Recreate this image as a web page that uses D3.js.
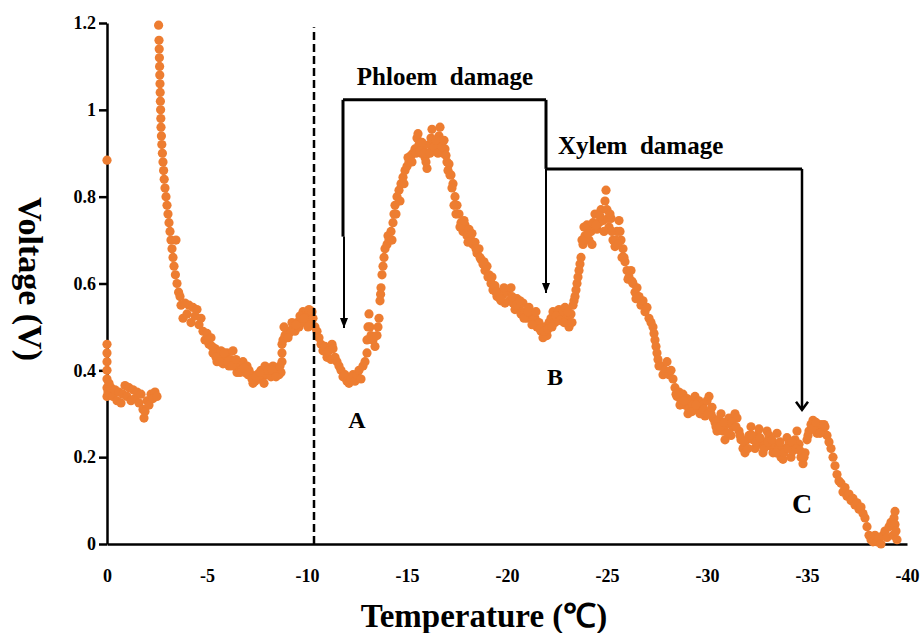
<!DOCTYPE html>
<html>
<head>
<meta charset="utf-8">
<script src="https://cdn.jsdelivr.net/npm/d3@7.9.0/dist/d3.min.js"></script>
<style>
  body { margin: 0; background: #fff; }
  svg { display: block; font-family: "Liberation Serif", "Times New Roman", serif; font-weight: bold; }
  .lbl { white-space: pre; }
</style>
</head>
<body>
<svg width="921" height="633"></svg>
<script>
// [temperature °C, voltage V]
const startColumn = [[0,0.884],[0,0.46],[0,0.44],[0,0.42],[0,0.40],[0,0.38],[0,0.36],[0,0.34]];

const preFreeze = [[-0.05,0.35],[-0.1,0.37],[-0.15,0.345],[-0.2,0.36],[-0.3,0.34],[-0.4,0.355],[-0.5,0.33],
  [-0.6,0.35],[-0.7,0.325],[-0.8,0.345],[-0.9,0.365],[-1.0,0.34],[-1.1,0.36],[-1.2,0.33],[-1.3,0.355],
  [-1.4,0.335],[-1.5,0.35],[-1.6,0.325],[-1.7,0.345],[-1.8,0.31],[-1.85,0.29],[-1.9,0.305],[-2.0,0.33],
  [-2.1,0.32],[-2.2,0.345],[-2.3,0.335],[-2.4,0.35],[-2.5,0.34]];

const exotherm = [[-2.58,1.195],[-2.6,1.16],[-2.61,1.14],[-2.62,1.12],[-2.63,1.10],[-2.64,1.08],[-2.65,1.06],
  [-2.66,1.04],[-2.67,1.02],[-2.68,1.0],[-2.69,0.98],[-2.7,0.96],[-2.72,0.94],[-2.74,0.92],[-2.77,0.90],
  [-2.8,0.88],[-2.83,0.86],[-2.86,0.84],[-2.9,0.82],[-2.95,0.80],[-3.0,0.78],[-3.05,0.76],[-3.1,0.74],
  [-3.15,0.72],[-3.2,0.70],[-3.45,0.70],[-3.25,0.68],[-3.3,0.66],[-3.35,0.64],[-3.42,0.62],[-3.5,0.60],
  [-3.58,0.58],[-3.65,0.57]];

const supercool = [[-3.7,0.55],[-3.8,0.52],[-3.9,0.555],[-4.0,0.53],[-4.1,0.55],[-4.2,0.51],[-4.3,0.545],
  [-4.4,0.525],[-4.5,0.54],[-4.6,0.505],[-4.7,0.52],[-4.8,0.49],[-4.9,0.47],[-5.0,0.485],[-5.1,0.46],
  [-5.2,0.475],[-5.3,0.44],[-5.4,0.45],[-5.5,0.42],[-5.6,0.435],[-5.7,0.445],[-5.8,0.415],[-5.9,0.43],
  [-6.0,0.44],[-6.1,0.41],[-6.2,0.425],[-6.3,0.445],[-6.4,0.41],[-6.5,0.395],[-6.6,0.415],[-6.7,0.40],
  [-6.8,0.42],[-6.9,0.395],[-7.0,0.41],[-7.1,0.40],[-7.2,0.39],[-7.3,0.37],[-7.4,0.375],[-7.5,0.39],
  [-7.6,0.38],[-7.7,0.40],[-7.8,0.385],[-7.9,0.41],[-8.0,0.39],[-8.1,0.405],[-8.2,0.385],[-8.3,0.41],
  [-8.4,0.395],[-8.5,0.40],[-8.6,0.39],[-8.7,0.395],[-8.75,0.42],[-8.75,0.44],[-8.75,0.46],[-8.8,0.47],
  [-8.9,0.48],[-9.0,0.49],[-9.1,0.485],[-9.2,0.49],[-9.3,0.50],[-9.4,0.49],[-9.5,0.51],[-9.6,0.50],
  [-9.7,0.52],[-9.8,0.535],[-9.9,0.51],[-10.0,0.525],[-10.1,0.54],[-10.2,0.515],[-10.3,0.52],[-10.4,0.50]];

const phloemPhase = [[-10.5,0.49],[-10.6,0.475],[-10.7,0.46],[-10.8,0.445],[-10.9,0.455],[-11.0,0.43],
  [-11.1,0.445],[-11.2,0.425],[-11.25,0.46],[-11.3,0.45],[-11.4,0.43],[-11.5,0.42],[-11.6,0.41],[-11.7,0.40],
  [-11.8,0.385],[-11.9,0.39],[-12.0,0.375],[-12.1,0.37],[-12.2,0.38],[-12.3,0.39],[-12.4,0.375],[-12.5,0.39],
  [-12.6,0.40],[-12.7,0.38],[-12.8,0.41],[-12.9,0.42],[-13.0,0.44],[-13.0,0.47],[-13.05,0.50],[-13.1,0.53],
  [-13.15,0.50],[-13.2,0.48],[-13.3,0.47],[-13.4,0.455],[-13.5,0.48],[-13.55,0.50],[-13.6,0.52],[-13.65,0.56],
  [-13.68,0.575],[-13.7,0.59],[-13.75,0.62],[-13.8,0.64],[-13.85,0.66],[-13.9,0.68],[-14.0,0.69],[-14.1,0.70],
  [-14.2,0.72],[-14.3,0.74],[-14.35,0.76],[-14.4,0.78],[-14.5,0.80],[-14.6,0.815],[-14.7,0.83],[-14.8,0.845],
  [-14.9,0.86],[-15.0,0.87],[-15.1,0.88],[-15.2,0.895],[-15.3,0.90],[-15.4,0.91],[-15.5,0.935],[-15.6,0.92],
  [-15.7,0.90],[-15.8,0.915],[-15.9,0.89],[-16.0,0.865],[-16.05,0.90],[-16.1,0.92],[-16.2,0.935],[-16.25,0.955],
  [-16.3,0.93],[-16.4,0.905],[-16.5,0.92],[-16.6,0.94],[-16.65,0.96],[-16.7,0.93],[-16.8,0.90],[-16.9,0.91],
  [-17.0,0.88],[-17.1,0.875],[-17.2,0.85],[-17.3,0.83],[-17.4,0.80],[-17.5,0.78],[-17.6,0.76],[-17.7,0.74],
  [-17.8,0.72],[-17.9,0.735],[-18.0,0.71],[-18.1,0.725],[-18.2,0.70],[-18.3,0.69],[-18.4,0.695],[-18.5,0.67],
  [-18.6,0.68],[-18.7,0.655],[-18.8,0.645],[-18.9,0.63],[-19.0,0.64],[-19.1,0.62],[-19.2,0.60],[-19.3,0.585],
  [-19.4,0.595],[-19.5,0.57],[-19.6,0.58],[-19.7,0.56],[-19.8,0.575],[-19.9,0.555],[-20.0,0.58],[-20.1,0.56],
  [-20.2,0.59],[-20.3,0.555],[-20.4,0.54],[-20.5,0.565],[-20.6,0.545],[-20.7,0.53],[-20.8,0.555],[-20.9,0.535],
  [-21.0,0.52],[-21.1,0.545],[-21.2,0.53],[-21.3,0.515],[-21.4,0.52],[-21.5,0.50],[-21.6,0.51],[-21.7,0.49],
  [-21.8,0.475],[-21.9,0.50],[-22.0,0.48],[-22.1,0.51]];

const xylemPhase = [[-22.2,0.52],[-22.3,0.535],[-22.4,0.51],[-22.5,0.53],[-22.6,0.54],[-22.7,0.52],[-22.8,0.535],
  [-22.9,0.545],[-23.0,0.52],[-23.1,0.50],[-23.2,0.53],[-23.3,0.55],[-23.35,0.56],[-23.4,0.57],[-23.45,0.585],
  [-23.5,0.60],[-23.55,0.615],[-23.6,0.63],[-23.65,0.645],[-23.7,0.66],[-23.8,0.69],[-23.9,0.71],[-24.0,0.735],
  [-24.1,0.70],[-24.2,0.72],[-24.3,0.74],[-24.4,0.76],[-24.5,0.725],[-24.6,0.74],[-24.7,0.77],[-24.8,0.745],
  [-24.9,0.79],[-24.95,0.815],[-25.0,0.77],[-25.1,0.73],[-25.2,0.75],[-25.3,0.70],[-25.4,0.685],[-25.5,0.72],
  [-25.6,0.745],[-25.7,0.70],[-25.8,0.68],[-25.9,0.65],[-26.0,0.63],[-26.1,0.615],[-26.2,0.63],[-26.3,0.60],
  [-26.4,0.58],[-26.5,0.59],[-26.6,0.57],[-26.7,0.55],[-26.8,0.56],[-26.9,0.535],[-27.0,0.545],[-27.1,0.52],
  [-27.2,0.51],[-27.3,0.50]];

const tail = [[-27.35,0.485],[-27.4,0.47],[-27.45,0.455],[-27.5,0.44],[-27.55,0.425],[-27.6,0.41],[-27.7,0.41],
  [-27.8,0.39],[-27.9,0.40],[-28.0,0.42],[-28.1,0.39],[-28.2,0.40],[-28.3,0.38],[-28.4,0.36],[-28.5,0.34],
  [-28.6,0.35],[-28.7,0.33],[-28.8,0.345],[-28.9,0.32],[-29.0,0.335],[-29.1,0.31],[-29.2,0.33],[-29.3,0.32],
  [-29.4,0.34],[-29.5,0.31],[-29.6,0.33],[-29.7,0.30],[-29.8,0.32],[-29.9,0.295],[-30.0,0.33],[-30.1,0.34],
  [-30.2,0.30],[-30.3,0.29],[-30.4,0.28],[-30.5,0.26],[-30.6,0.285],[-30.7,0.30],[-30.8,0.26],[-30.9,0.24],
  [-31.0,0.275],[-31.1,0.29],[-31.2,0.25],[-31.3,0.27],[-31.4,0.30],[-31.5,0.29],[-31.6,0.26],[-31.7,0.24],
  [-31.8,0.22],[-31.9,0.21],[-32.0,0.24],[-32.1,0.25],[-32.2,0.27],[-32.3,0.24],[-32.4,0.22],[-32.5,0.25],
  [-32.6,0.265],[-32.7,0.23],[-32.8,0.21],[-32.9,0.235],[-33.0,0.26],[-33.1,0.25],[-33.2,0.225],[-33.3,0.21],
  [-33.4,0.23],[-33.5,0.255],[-33.6,0.22],[-33.7,0.20],[-33.8,0.195],[-33.9,0.22],[-34.0,0.245],[-34.1,0.23],
  [-34.2,0.20],[-34.3,0.215],[-34.4,0.24],[-34.5,0.26],[-34.6,0.23],[-34.7,0.20],[-34.8,0.185],[-34.9,0.21],
  [-35.0,0.24],[-35.1,0.26],[-35.2,0.275],[-35.3,0.285],[-35.4,0.27],[-35.5,0.255],[-35.6,0.265],[-35.7,0.275],
  [-35.8,0.26],[-35.9,0.27],[-36.0,0.25],[-36.1,0.235],[-36.2,0.22],[-36.3,0.20],[-36.4,0.18],[-36.5,0.16],
  [-36.6,0.145],[-36.7,0.14],[-36.8,0.12],[-36.9,0.13],[-37.0,0.11],[-37.1,0.115],[-37.2,0.10],[-37.3,0.105],
  [-37.4,0.09],[-37.5,0.095],[-37.6,0.08],[-37.7,0.085],[-37.8,0.07],[-37.9,0.06],[-38.0,0.04],[-38.1,0.02],
  [-38.2,0.01],[-38.3,0.005],[-38.4,0.02],[-38.5,0.005],[-38.6,0.015],[-38.7,0.0],[-38.8,0.02],[-38.9,0.03],
  [-39.0,0.015],[-39.1,0.04],[-39.2,0.05],[-39.3,0.02],[-39.35,0.06],[-39.4,0.075],[-39.4,0.045],[-39.45,0.03],
  [-39.5,0.01]];

// in-between readings where the trace is densest
const extraReadings = [[-5.05,0.47],[-5.25,0.455],[-5.45,0.43],[-5.65,0.42],[-5.85,0.44],[-6.05,0.42],
  [-6.25,0.41],[-6.45,0.425],[-6.65,0.395],[-6.85,0.405],[-7.05,0.39],[-7.25,0.38],[-7.45,0.385],[-7.65,0.395],
  [-7.85,0.37],[-8.05,0.40],[-8.25,0.40],[-8.45,0.385],[-8.65,0.41],[-8.85,0.50],[-9.05,0.475],[-9.25,0.51],
  [-9.45,0.505],[-9.65,0.525],[-9.85,0.52],[-10.05,0.50],[-10.25,0.535],
  [-14.05,0.71],[-14.25,0.70],[-14.45,0.76],[-14.65,0.79],[-14.85,0.83],[-15.05,0.89],[-15.25,0.88],
  [-15.45,0.90],[-15.55,0.945],[-15.65,0.905],[-15.75,0.925],[-15.85,0.90],[-15.95,0.88],[-16.15,0.90],
  [-16.35,0.915],[-16.45,0.93],[-16.55,0.90],[-16.75,0.915],[-16.85,0.93],[-16.95,0.895],[-17.05,0.86],
  [-17.15,0.85],[-17.25,0.82],[-17.35,0.78],[-17.45,0.76],[-17.65,0.73],[-17.85,0.745],[-18.05,0.695],
  [-18.25,0.715],[-18.45,0.68],[-18.65,0.66],[-18.85,0.65],[-19.05,0.615],[-19.25,0.615],[-19.45,0.58],
  [-19.65,0.565],[-19.85,0.59],[-20.25,0.57],[-20.45,0.55],[-20.65,0.56],[-20.85,0.52],[-21.05,0.535],
  [-21.25,0.505],[-21.45,0.535],[-21.65,0.495],[-21.85,0.49],[-22.05,0.495],[-22.25,0.50],[-22.45,0.525],
  [-22.65,0.515],[-22.85,0.51],[-23.05,0.535],[-23.25,0.51],
  [-23.75,0.70],[-23.85,0.73],[-24.05,0.715],[-24.25,0.69],[-24.45,0.735],[-24.65,0.755],[-24.85,0.72],
  [-25.05,0.75],[-25.15,0.76],[-25.25,0.72],[-25.45,0.70],[-25.55,0.69],[-25.65,0.72],[-25.75,0.66],
  [-25.85,0.66],[-26.05,0.61],[-26.25,0.605],[-26.45,0.565],
  [-28.45,0.345],[-28.65,0.32],[-28.85,0.33],[-29.05,0.30],[-29.25,0.305],[-29.45,0.32],[-29.65,0.30],
  [-29.85,0.31],[-30.05,0.30],[-30.25,0.315],[-30.45,0.27],[-30.65,0.27],[-30.85,0.28],[-31.05,0.255],
  [-31.25,0.28],[-31.45,0.27],[-31.65,0.25],[-31.85,0.235],[-32.05,0.22],[-32.25,0.25],[-32.45,0.235],
  [-32.65,0.245],[-32.85,0.22],[-33.05,0.235],[-33.25,0.24],[-33.45,0.21],[-33.65,0.235],[-33.85,0.21],
  [-34.05,0.22],[-34.25,0.235],[-34.45,0.22],[-34.65,0.215],[-34.85,0.20],[-35.05,0.25],[-35.25,0.265],
  [-35.45,0.28],[-35.65,0.255],[-35.85,0.275]];

const tempTicks = [0, -5, -10, -15, -20, -25, -30, -35, -40];
const voltTicks = [0, 0.2, 0.4, 0.6, 0.8, 1, 1.2];

const svg = d3.select("svg");
const x = d3.scaleLinear().domain([0, -40]).range([107, 907]);
const y = d3.scaleLinear().domain([0, 1.2]).range([544, 23]);

// axes
const yAxis = svg.append("g")
  .attr("transform", `translate(${x(0)},0)`)
  .call(d3.axisLeft(y).tickValues(voltTicks).tickSize(8).tickSizeOuter(0).tickPadding(3).tickFormat(d3.format("~g")));
const xAxis = svg.append("g")
  .attr("transform", `translate(0,${y(0)})`)
  .call(d3.axisBottom(x).tickValues(tempTicks).tickSize(0).tickSizeOuter(0).tickPadding(25).tickFormat(d => String(d)));

[xAxis, yAxis].forEach(g => {
  g.attr("font-family", null).attr("font-size", 18);
  g.selectAll("path, line").attr("stroke", "#000").attr("stroke-width", 2.5);
  g.selectAll("text").attr("fill", "#000");
});

// measured points
const points = [...startColumn, ...preFreeze, ...exotherm, ...supercool, ...phloemPhase, ...xylemPhase, ...tail, ...extraReadings];
svg.append("g").selectAll("circle")
  .data(points)
  .join("circle")
  .attr("cx", d => x(d[0]))
  .attr("cy", d => y(d[1]))
  .attr("r", 4.6)
  .attr("fill", "#ED7D31");

// freezing point marker
svg.append("line")
  .attr("x1", x(-10.35)).attr("x2", x(-10.35))
  .attr("y1", y(0)).attr("y2", y(1.19))
  .attr("stroke", "#000").attr("stroke-width", 2.5)
  .attr("stroke-dasharray", "8,4");

// arrow heads
const defs = svg.append("defs");
defs.append("marker").attr("id", "tri")
  .attr("markerUnits", "userSpaceOnUse").attr("markerWidth", 10).attr("markerHeight", 12)
  .attr("viewBox", "0 0 10 12").attr("refX", 5).attr("refY", 12).attr("orient", "0")
  .append("path").attr("d", "M1,2 L9,2 L5,12 Z").attr("fill", "#000");
defs.append("marker").attr("id", "chev")
  .attr("markerUnits", "userSpaceOnUse").attr("markerWidth", 16).attr("markerHeight", 16)
  .attr("viewBox", "0 0 16 16").attr("refX", 8).attr("refY", 14).attr("orient", "0")
  .append("path").attr("d", "M2,6 L8,14 L14,6").attr("fill", "none").attr("stroke", "#000").attr("stroke-width", 2.5);

const ann = svg.append("g").attr("stroke", "#000").attr("fill", "none");
const seg = (t1, v1, t2, v2, w, marker) => {
  const l = ann.append("line")
    .attr("x1", x(t1)).attr("y1", y(v1)).attr("x2", x(t2)).attr("y2", y(v2))
    .attr("stroke-width", w);
  if (marker) l.attr("marker-end", `url(#${marker})`);
};
// phloem bracket
seg(-11.8, 1.023, -21.95, 1.023, 3);
seg(-11.8, 1.023, -11.8, 0.708, 3);
seg(-11.85, 0.708, -11.85, 0.4975, 2, "tri");
seg(-21.95, 1.023, -21.95, 0.864, 3);
seg(-21.95, 0.864, -21.95, 0.578, 2, "tri");
// xylem bracket
seg(-21.95, 0.864, -34.75, 0.864, 3);
seg(-34.75, 0.864, -34.75, 0.309, 2.5, "chev");

// labels
const label = (txt, t, v, size, anchor) => svg.append("text")
  .attr("class", "lbl")
  .attr("x", x(t)).attr("y", y(v))
  .attr("font-size", size)
  .attr("text-anchor", anchor)
  .text(txt);
label("Phloem  damage", -16.9, 1.058, 25, "middle");
label("Xylem  damage", -22.55, 0.899, 25, "start");
label("A", -12.5, 0.267, 24, "middle");
label("B", -22.4, 0.366, 24, "middle");
label("C", -34.75, 0.071, 28, "middle");

// axis titles
svg.append("text")
  .attr("transform", "translate(19,279) rotate(90)")
  .attr("text-anchor", "middle")
  .attr("font-size", 34)
  .text("Voltage (V)");
svg.append("text")
  .attr("x", 484).attr("y", 627)
  .attr("text-anchor", "middle")
  .attr("font-size", 33)
  .text("Temperature (℃)");
</script>
</body>
</html>
